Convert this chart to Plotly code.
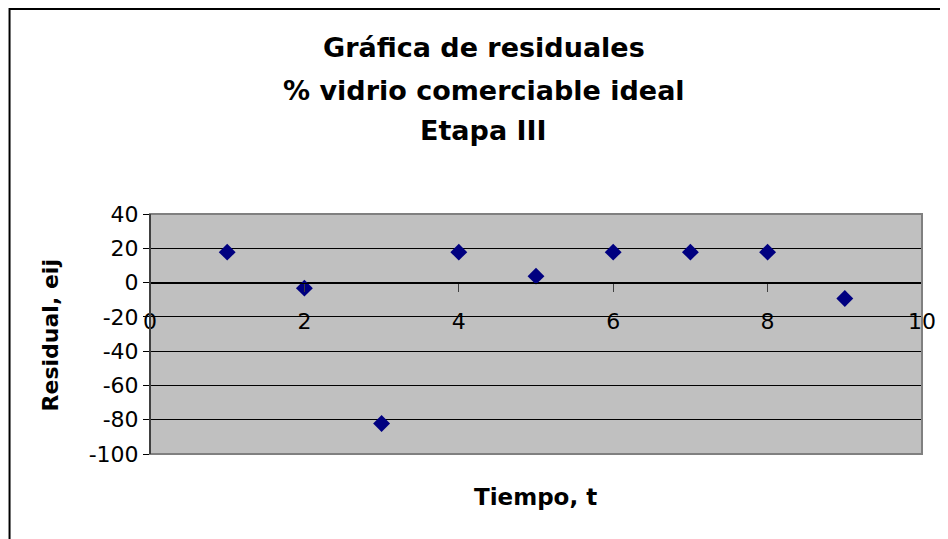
import plotly.graph_objects as go

tiempo = [1, 2, 3, 4, 5, 6, 7, 8, 9]
residual = [17.75, -3.25, -82.25, 17.75, 3.75, 17.75, 17.75, 17.75, -9.25]
x_ticks = [0, 2, 4, 6, 8, 10]
y_ticks = [-100, -80, -60, -40, -20, 0, 20, 40]
title_lines = ["Gráfica de residuales", "% vidrio comerciable ideal", "Etapa III"]
x_title = "Tiempo, t"
y_title = "Residual, eij"

FONT = "DejaVu Sans, Liberation Sans, Arial, sans-serif"

# page has an 8px body margin; work in reference page pixels and convert
OFF = 8
W, H = 948 - OFF, 539 - OFF
PL, PR, PT, PB = 150, 925, 214, 454  # plot area in page pixels
L, T = PL - OFF, PT - OFF
R, B = W - (PR - OFF), H - (PB - OFF)
pw, ph = W - L - R, H - T - B

def px_x(p):
    return (p - OFF - L) / pw

def px_y(p):
    return (H - B - (p - OFF)) / ph

fig = go.Figure()
fig.add_trace(go.Scatter(
    x=tiempo, y=residual, mode="markers",
    marker=dict(symbol="diamond", size=13, color="#000080", line=dict(width=0)),
    showlegend=False, cliponaxis=False,
))

ymin, ymax = -100, 40
fig.update_layout(
    width=W, height=H,
    margin=dict(l=L, r=R, t=T, b=B, pad=0),
    paper_bgcolor="white", plot_bgcolor="#C0C0C0",
    font=dict(family=FONT, color="black", size=21),
    xaxis=dict(
        range=[0, 10], tickvals=x_ticks, ticktext=[str(v) for v in x_ticks],
        showgrid=False, zeroline=False, showline=True, linecolor="black", linewidth=1,
        ticks="outside", ticklen=8, tickcolor="#404040", tickwidth=1,
        anchor="free", position=(0 - ymin) / (ymax - ymin),
        ticklabelstandoff=11,
        tickfont=dict(family=FONT, size=22, color="black"),
    ),
    yaxis=dict(
        range=[ymin, ymax], tickvals=y_ticks, ticktext=[str(v) for v in y_ticks],
        showgrid=True, gridcolor="black", gridwidth=1, zeroline=False,
        showline=True, linecolor="black", linewidth=1,
        ticks="outside", ticklen=6, tickcolor="black", ticklabelstandoff=0,
        tickfont=dict(family=FONT, size=22, color="black"),
    ),
)

# plot area frame (grey)
fig.add_shape(type="rect", xref="paper", yref="paper", x0=0, y0=0, x1=1, y1=1,
              line=dict(color="#808080", width=2), layer="above")
# left axis line on top in black
fig.add_shape(type="line", xref="paper", yref="paper", x0=0, y0=0, x1=0, y1=1,
              line=dict(color="black", width=1), layer="above")
# outer chart border
fig.add_shape(type="rect", xref="paper", yref="paper",
              x0=px_x(9), y0=px_y(570), x1=px_x(980), y1=px_y(9),
              line=dict(color="black", width=2), layer="above")

for line, yc in zip(title_lines, [47, 90, 131]):
    fig.add_annotation(text="<b>%s</b>" % line, xref="paper", yref="paper",
                       x=px_x(485), y=px_y(yc), xanchor="center", yanchor="middle",
                       showarrow=False, font=dict(family=FONT, size=27, color="black"))

fig.add_annotation(text="<b>%s</b>" % x_title, xref="paper", yref="paper",
                   x=px_x(537), y=px_y(497), xanchor="center", yanchor="middle",
                   showarrow=False, font=dict(family=FONT, size=23, color="black"))
fig.add_annotation(text="<b>%s</b>" % y_title, xref="paper", yref="paper",
                   x=px_x(50), y=px_y(335), xanchor="center", yanchor="middle",
                   textangle=-90, showarrow=False,
                   font=dict(family=FONT, size=22, color="black"))

fig.write_html("out.html")
